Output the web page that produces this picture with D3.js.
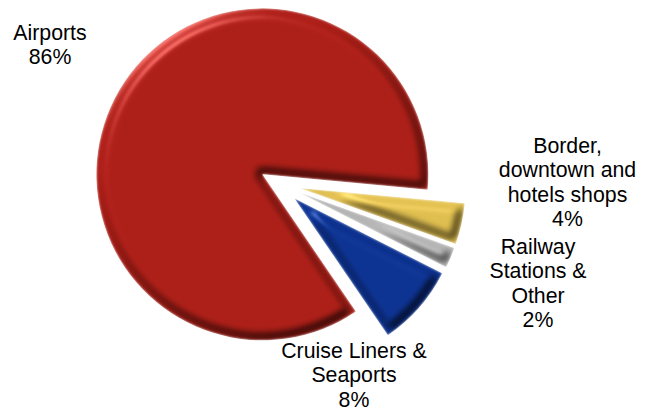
<!DOCTYPE html>
<html>
<head>
<meta charset="utf-8">
<script src="https://cdn.jsdelivr.net/npm/d3@7/dist/d3.min.js"></script>
<style>
  html, body { margin: 0; padding: 0; background: #fff; }
  svg { display: block; }
  text { font-family: "Liberation Sans", Arial, sans-serif; font-size: 21.3px; fill: #000; }
</style>
</head>
<body>
<svg id="chart" width="645" height="419"></svg>
<script>
// Share of sales by retail channel, percent
const categories = ["Airports", "Border, downtown and hotels shops", "Railway Stations & Other", "Cruise Liners & Seaports"];
const shares = [86, 4, 2, 8];
const labelLines = [
  ["Airports", "86%"],
  ["Border,", "downtown and", "hotels shops", "4%"],
  ["Railway", "Stations &", "Other", "2%"],
  ["Cruise Liners &", "Seaports", "8%"]
];
const sliceColors = ["#ad1f18", "#e0bf50", "#b4b4b4", "#0d3393"];

// Layout of the exploded pie
const centre = [277, 183];
const radius = 166;
const explode = [17, 23, 23, 23];
const firstSliceStart = 145.7 * Math.PI / 180;
const labelAnchors = [[50, 40], [567.5, 153], [538, 254], [354, 358]];
const lineGap = 24.4;

const svg = d3.select("#chart");

// Raised-edge shading: the eroded slice outline, blurred into a height map, lit from the upper left
const defs = svg.append("defs");
const bevel = defs.append("filter").attr("id", "bevel")
  .attr("x", "-10%").attr("y", "-10%").attr("width", "120%").attr("height", "120%")
  .attr("color-interpolation-filters", "sRGB");
bevel.append("feMorphology").attr("in", "SourceAlpha").attr("operator", "erode").attr("radius", 4).attr("result", "core");
bevel.append("feGaussianBlur").attr("in", "core").attr("stdDeviation", 3.6).attr("result", "height");
bevel.append("feDiffuseLighting").attr("in", "height").attr("surfaceScale", 3.6)
  .attr("diffuseConstant", 1.15).attr("lighting-color", "#fff").attr("result", "lit")
  .append("feDistantLight").attr("azimuth", 235).attr("elevation", 60);
bevel.append("feComposite").attr("in", "SourceGraphic").attr("in2", "lit")
  .attr("operator", "arithmetic").attr("k1", 1).attr("k2", 0).attr("k3", 0).attr("k4", 0).attr("result", "shaded");
bevel.append("feSpecularLighting").attr("in", "height").attr("surfaceScale", 4.5)
  .attr("specularConstant", 0.7).attr("specularExponent", 30).attr("lighting-color", "#fff").attr("result", "shine")
  .append("feDistantLight").attr("azimuth", 235).attr("elevation", 30);
bevel.append("feComposite").attr("in", "shaded").attr("in2", "shine")
  .attr("operator", "arithmetic").attr("k1", 0).attr("k2", 1).attr("k3", 0.5).attr("k4", 0).attr("result", "bright");
bevel.append("feGaussianBlur").attr("in", "bright").attr("stdDeviation", 0.8).attr("result", "soft");
bevel.append("feComposite").attr("in", "soft").attr("in2", "SourceAlpha").attr("operator", "in");

const pie = d3.pie().sort(null).startAngle(firstSliceStart).endAngle(firstSliceStart + 2 * Math.PI);
const arc = d3.arc().innerRadius(0).outerRadius(radius);

svg.append("g").selectAll("path")
  .data(pie(shares))
  .join("path")
  .attr("d", arc)
  .attr("fill", (d, i) => sliceColors[i])
  .attr("filter", "url(#bevel)")
  .attr("transform", (d, i) => {
    const mid = (d.startAngle + d.endAngle) / 2;
    const x = centre[0] + explode[i] * Math.sin(mid);
    const y = centre[1] - explode[i] * Math.cos(mid);
    return `translate(${x},${y})`;
  })
  .append("title").text((d, i) => categories[i]);

const labels = svg.append("g").selectAll("text")
  .data(labelLines)
  .join("text")
  .attr("text-anchor", "middle")
  .attr("transform", (d, i) => `translate(${labelAnchors[i][0]},${labelAnchors[i][1]})`);

labels.selectAll("tspan")
  .data(d => d)
  .join("tspan")
  .attr("x", 0)
  .attr("y", (d, i) => i * lineGap)
  .text(d => d);
</script>
</body>
</html>
